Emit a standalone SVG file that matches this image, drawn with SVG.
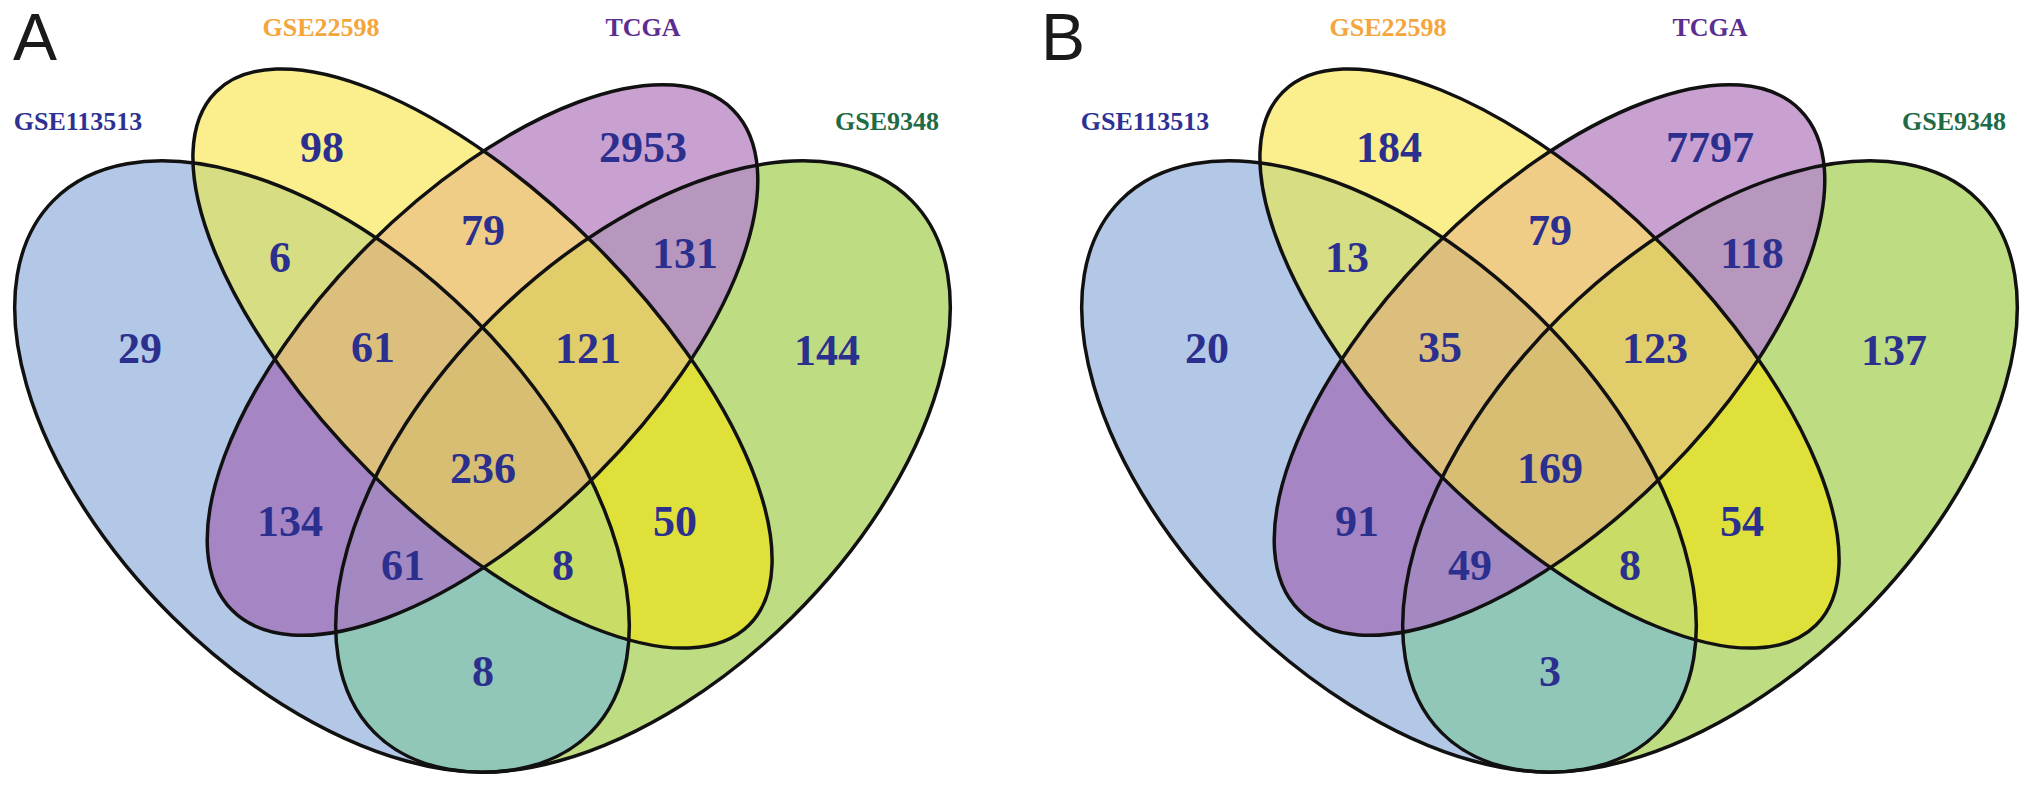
<svg xmlns="http://www.w3.org/2000/svg" width="2031" height="788" viewBox="0 0 2031 788">
<style>
.num{font-family:"Liberation Serif","Times New Roman",serif;font-weight:bold;font-size:44px;fill:#2B2F8E;text-anchor:middle}
.set{font-family:"Liberation Serif","Times New Roman",serif;font-weight:bold;font-size:26px;text-anchor:middle}
.panel{font-family:"Liberation Sans",Arial,sans-serif;font-size:66px;fill:#1a1a1a}
.outline{fill:none;stroke:#111;stroke-width:3.5}
</style>
<defs>
<ellipse id="eB" cx="322" cy="466.5" rx="378" ry="212" transform="rotate(44.7 322 466.5)"/>
<ellipse id="eY" cx="482.5" cy="358.5" rx="377" ry="160" transform="rotate(45 482.5 358.5)"/>
<ellipse id="eP" cx="482.5" cy="360" rx="354" ry="162" transform="rotate(-45 482.5 360)"/>
<ellipse id="eG" cx="643" cy="466.5" rx="378" ry="212" transform="rotate(-44.7 643 466.5)"/>
<clipPath id="cB"><use href="#eB"/></clipPath>
<clipPath id="cY"><use href="#eY"/></clipPath>
<clipPath id="cP"><use href="#eP"/></clipPath>
<clipPath id="cG"><use href="#eG"/></clipPath>
<g id="regions">
<use href="#eB" fill="#B3C7E6"/>
<use href="#eY" fill="#FBEF8D"/>
<use href="#eP" fill="#C9A1D1"/>
<use href="#eG" fill="#BEDC82"/>
<g clip-path="url(#cB)"><use href="#eY" fill="#D6DD82"/></g>
<g clip-path="url(#cB)"><use href="#eP" fill="#A585C3"/></g>
<g clip-path="url(#cB)"><use href="#eG" fill="#91C7B9"/></g>
<g clip-path="url(#cY)"><use href="#eP" fill="#F0CD87"/></g>
<g clip-path="url(#cY)"><use href="#eG" fill="#E0E03A"/></g>
<g clip-path="url(#cP)"><use href="#eG" fill="#B897BE"/></g>
<g clip-path="url(#cB)"><g clip-path="url(#cY)"><use href="#eP" fill="#DCBE7D"/></g></g>
<g clip-path="url(#cB)"><g clip-path="url(#cY)"><use href="#eG" fill="#C8DC66"/></g></g>
<g clip-path="url(#cB)"><g clip-path="url(#cP)"><use href="#eG" fill="#A388C2"/></g></g>
<g clip-path="url(#cY)"><g clip-path="url(#cP)"><use href="#eG" fill="#E1CD69"/></g></g>
<g clip-path="url(#cB)"><g clip-path="url(#cY)"><g clip-path="url(#cP)"><use href="#eG" fill="#D7BE73"/></g></g></g>
</g>
<g id="outlines">
<use href="#eB" class="outline"/>
<use href="#eY" class="outline"/>
<use href="#eP" class="outline"/>
<use href="#eG" class="outline"/>
</g>
<g id="setlabels">
<text class="set" x="78" y="130" fill="#2E3192">GSE113513</text>
<text class="set" x="321" y="36" fill="#F4A53C">GSE22598</text>
<text class="set" x="643" y="36" fill="#5C2D91">TCGA</text>
<text class="set" x="887" y="130" fill="#1E6B45">GSE9348</text>
</g>
</defs>

<g id="panelA">
<text id="A-letter" class="panel" x="13" y="60">A</text>
<g id="A-venn">
<use href="#regions"/>
<use href="#outlines"/>
<use href="#setlabels"/>
</g>
<g id="A-counts">
<text class="num" x="322" y="162">98</text>
<text class="num" x="643" y="162">2953</text>
<text class="num" x="280" y="272">6</text>
<text class="num" x="483" y="245">79</text>
<text class="num" x="685" y="268">131</text>
<text class="num" x="140" y="363">29</text>
<text class="num" x="373" y="362">61</text>
<text class="num" x="588" y="363">121</text>
<text class="num" x="827" y="365">144</text>
<text class="num" x="483" y="483">236</text>
<text class="num" x="290" y="536">134</text>
<text class="num" x="675" y="536">50</text>
<text class="num" x="403" y="580">61</text>
<text class="num" x="563" y="580">8</text>
<text class="num" x="483" y="686">8</text>
</g>
</g>

<g id="panelB">
<text id="B-letter" class="panel" x="1041" y="60">B</text>
<g id="B-venn" transform="translate(1067 0)">
<use href="#regions"/>
<use href="#outlines"/>
<use href="#setlabels"/>
<g id="B-counts">
<text class="num" x="322" y="162">184</text>
<text class="num" x="643" y="162">7797</text>
<text class="num" x="280" y="272">13</text>
<text class="num" x="483" y="245">79</text>
<text class="num" x="685" y="268">118</text>
<text class="num" x="140" y="363">20</text>
<text class="num" x="373" y="362">35</text>
<text class="num" x="588" y="363">123</text>
<text class="num" x="827" y="365">137</text>
<text class="num" x="483" y="483">169</text>
<text class="num" x="290" y="536">91</text>
<text class="num" x="675" y="536">54</text>
<text class="num" x="403" y="580">49</text>
<text class="num" x="563" y="580">8</text>
<text class="num" x="483" y="686">3</text>
</g>
</g>
</g>
</svg>
